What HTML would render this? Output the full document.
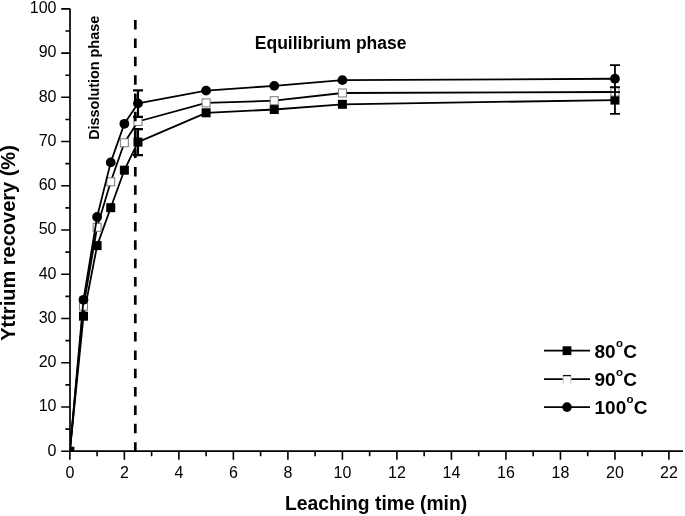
<!DOCTYPE html><html><head><meta charset="utf-8"><style>html,body{margin:0;padding:0;background:#fff}svg{display:block;filter:grayscale(1)}text{font-family:"Liberation Sans",sans-serif;fill:#000}</style></head><body>
<svg width="685" height="516" viewBox="0 0 685 516">
<rect width="685" height="516" fill="#fff"/>
<defs><clipPath id="pc"><rect x="70" y="0" width="615" height="451.2"/></clipPath></defs>
<g clip-path="url(#pc)">
<polyline points="69.85,451.20 83.48,316.20 97.10,245.60 110.73,207.70 124.36,170.20 137.99,142.10 206.12,112.80 274.26,109.50 342.40,104.30 614.95,100.10" fill="none" stroke="#000" stroke-width="1.8" stroke-linejoin="round"/>
<rect x="65.35" y="446.70" width="9.0" height="9.0" fill="#000"/>
<rect x="78.98" y="311.70" width="9.0" height="9.0" fill="#000"/>
<rect x="92.60" y="241.10" width="9.0" height="9.0" fill="#000"/>
<rect x="106.23" y="203.20" width="9.0" height="9.0" fill="#000"/>
<rect x="119.86" y="165.70" width="9.0" height="9.0" fill="#000"/>
<rect x="133.49" y="137.60" width="9.0" height="9.0" fill="#000"/>
<rect x="201.62" y="108.30" width="9.0" height="9.0" fill="#000"/>
<rect x="269.76" y="105.00" width="9.0" height="9.0" fill="#000"/>
<rect x="337.90" y="99.80" width="9.0" height="9.0" fill="#000"/>
<rect x="610.45" y="95.60" width="9.0" height="9.0" fill="#000"/>
<polyline points="69.85,451.20 83.48,306.10 97.10,227.30 110.73,181.80 124.36,142.80 137.99,121.50 206.12,102.90 274.26,100.70 342.40,93.00 614.95,92.00" fill="none" stroke="#000" stroke-width="1.8" stroke-linejoin="round"/>
<rect x="79.48" y="302.10" width="8.0" height="8.0" fill="#fff" stroke="#777" stroke-width="1"/>
<rect x="93.10" y="223.30" width="8.0" height="8.0" fill="#fff" stroke="#777" stroke-width="1"/>
<rect x="106.73" y="177.80" width="8.0" height="8.0" fill="#fff" stroke="#777" stroke-width="1"/>
<rect x="120.36" y="138.80" width="8.0" height="8.0" fill="#fff" stroke="#777" stroke-width="1"/>
<rect x="133.99" y="117.50" width="8.0" height="8.0" fill="#fff" stroke="#777" stroke-width="1"/>
<rect x="202.12" y="98.90" width="8.0" height="8.0" fill="#fff" stroke="#777" stroke-width="1"/>
<rect x="270.26" y="96.70" width="8.0" height="8.0" fill="#fff" stroke="#777" stroke-width="1"/>
<rect x="338.40" y="89.00" width="8.0" height="8.0" fill="#fff" stroke="#777" stroke-width="1"/>
<rect x="610.95" y="88.00" width="8.0" height="8.0" fill="#fff" stroke="#777" stroke-width="1"/>
<polyline points="69.85,451.20 83.48,299.80 97.10,217.00 110.73,162.40 124.36,123.80 137.99,103.40 206.12,90.60 274.26,85.85 342.40,80.15 614.95,78.75" fill="none" stroke="#000" stroke-width="1.8" stroke-linejoin="round"/>
<circle cx="83.48" cy="299.80" r="4.9" fill="#000"/>
<circle cx="97.10" cy="217.00" r="4.9" fill="#000"/>
<circle cx="110.73" cy="162.40" r="4.9" fill="#000"/>
<circle cx="124.36" cy="123.80" r="4.9" fill="#000"/>
<circle cx="137.99" cy="103.40" r="4.9" fill="#000"/>
<circle cx="206.12" cy="90.60" r="4.9" fill="#000"/>
<circle cx="274.26" cy="85.85" r="4.9" fill="#000"/>
<circle cx="342.40" cy="80.15" r="4.9" fill="#000"/>
<circle cx="614.95" cy="78.75" r="4.9" fill="#000"/>
<path d="M137.99,90.40V116.80M132.99,90.40H142.99M132.99,116.80H142.99" stroke="#000" stroke-width="2.2" fill="none"/>
<path d="M137.99,129.10V155.10M132.99,129.10H142.99M132.99,155.10H142.99" stroke="#000" stroke-width="2.2" fill="none"/>
<path d="M614.95,65.20V92.20M609.95,65.20H619.95M609.95,92.20H619.95" stroke="#000" stroke-width="1.8" fill="none"/>
<path d="M614.95,87.20V113.95M609.95,87.20H619.95M609.95,113.95H619.95" stroke="#000" stroke-width="1.8" fill="none"/>
<rect x="65.65" y="447.00" width="8.4" height="8.4" fill="#000"/>
</g>
<line x1="135.3" y1="20.1" x2="135.3" y2="451" stroke="#000" stroke-width="2.7" stroke-dasharray="9.5 8.85"/>
<path d="M70,8.84V451.2H683" stroke="#000" stroke-width="1.7" fill="none"/>
<path d="M61.20,451.20H70 M65.40,429.08H70 M61.20,406.96H70 M65.40,384.85H70 M61.20,362.73H70 M65.40,340.61H70 M61.20,318.49H70 M65.40,296.37H70 M61.20,274.26H70 M65.40,252.14H70 M61.20,230.02H70 M65.40,207.90H70 M61.20,185.78H70 M65.40,163.67H70 M61.20,141.55H70 M65.40,119.43H70 M61.20,97.31H70 M65.40,75.19H70 M61.20,53.08H70 M65.40,30.96H70 M61.20,8.84H70 M69.85,451.2V459.70 M97.10,451.2V456.20 M124.36,451.2V459.70 M151.62,451.2V456.20 M178.87,451.2V459.70 M206.12,451.2V456.20 M233.38,451.2V459.70 M260.63,451.2V456.20 M287.89,451.2V459.70 M315.14,451.2V456.20 M342.40,451.2V459.70 M369.65,451.2V456.20 M396.91,451.2V459.70 M424.16,451.2V456.20 M451.42,451.2V459.70 M478.67,451.2V456.20 M505.93,451.2V459.70 M533.18,451.2V456.20 M560.44,451.2V459.70 M587.70,451.2V456.20 M614.95,451.2V459.70 M642.21,451.2V456.20 M668.90,451.2V459.70" stroke="#000" stroke-width="1.6" fill="none"/>
<text x="56.5" y="455.50" font-size="16" text-anchor="end">0</text>
<text x="56.5" y="411.26" font-size="16" text-anchor="end">10</text>
<text x="56.5" y="367.03" font-size="16" text-anchor="end">20</text>
<text x="56.5" y="322.79" font-size="16" text-anchor="end">30</text>
<text x="56.5" y="278.56" font-size="16" text-anchor="end">40</text>
<text x="56.5" y="234.32" font-size="16" text-anchor="end">50</text>
<text x="56.5" y="190.08" font-size="16" text-anchor="end">60</text>
<text x="56.5" y="145.85" font-size="16" text-anchor="end">70</text>
<text x="56.5" y="101.61" font-size="16" text-anchor="end">80</text>
<text x="56.5" y="57.38" font-size="16" text-anchor="end">90</text>
<text x="56.5" y="13.14" font-size="16" text-anchor="end">100</text>
<text x="69.85" y="477.8" font-size="16" text-anchor="middle">0</text>
<text x="124.36" y="477.8" font-size="16" text-anchor="middle">2</text>
<text x="178.87" y="477.8" font-size="16" text-anchor="middle">4</text>
<text x="233.38" y="477.8" font-size="16" text-anchor="middle">6</text>
<text x="287.89" y="477.8" font-size="16" text-anchor="middle">8</text>
<text x="342.40" y="477.8" font-size="16" text-anchor="middle">10</text>
<text x="396.91" y="477.8" font-size="16" text-anchor="middle">12</text>
<text x="451.42" y="477.8" font-size="16" text-anchor="middle">14</text>
<text x="505.93" y="477.8" font-size="16" text-anchor="middle">16</text>
<text x="560.44" y="477.8" font-size="16" text-anchor="middle">18</text>
<text x="614.95" y="477.8" font-size="16" text-anchor="middle">20</text>
<text x="668.90" y="477.8" font-size="16" text-anchor="middle">22</text>
<text x="285" y="509.7" font-size="19.3" font-weight="bold">Leaching time (min)</text>
<text transform="translate(14.6,340.8) rotate(-90)" font-size="20" font-weight="bold">Yttrium recovery (%)</text>
<text transform="translate(99,139.8) rotate(-90)" font-size="14.4" font-weight="bold">Dissolution phase</text>
<text x="254.8" y="49.4" font-size="17.5" font-weight="bold">Equilibrium phase</text>
<line x1="544" y1="350.7" x2="590" y2="350.7" stroke="#000" stroke-width="1.8"/>
<line x1="544" y1="379.2" x2="590" y2="379.2" stroke="#000" stroke-width="1.8"/>
<line x1="544" y1="407.1" x2="590" y2="407.1" stroke="#000" stroke-width="1.8"/>
<rect x="562.60" y="346.30" width="8.8" height="8.8" fill="#000"/>
<rect x="562.7" y="375.2" width="8.6" height="8.4" fill="#fff"/>
<path d="M563.2,383.6V375.8M570.9,383.6V375.8" stroke="#bbb" stroke-width="1" fill="none"/>
<path d="M562.9,375.6H570.9" stroke="#111" stroke-width="1.3" fill="none"/>
<circle cx="567.0" cy="407.1" r="4.8" fill="#000"/>
<text x="594.5" y="357.50" font-size="19" font-weight="bold">80<tspan font-size="11.5" dx="0.4" dy="-10.5">o</tspan><tspan dx="0.2" dy="10.5">C</tspan></text>
<text x="594.5" y="386.00" font-size="19" font-weight="bold">90<tspan font-size="11.5" dx="0.4" dy="-10.5">o</tspan><tspan dx="0.2" dy="10.5">C</tspan></text>
<text x="594.5" y="413.90" font-size="19" font-weight="bold">100<tspan font-size="11.5" dx="0.4" dy="-10.5">o</tspan><tspan dx="0.2" dy="10.5">C</tspan></text>
</svg></body></html>
